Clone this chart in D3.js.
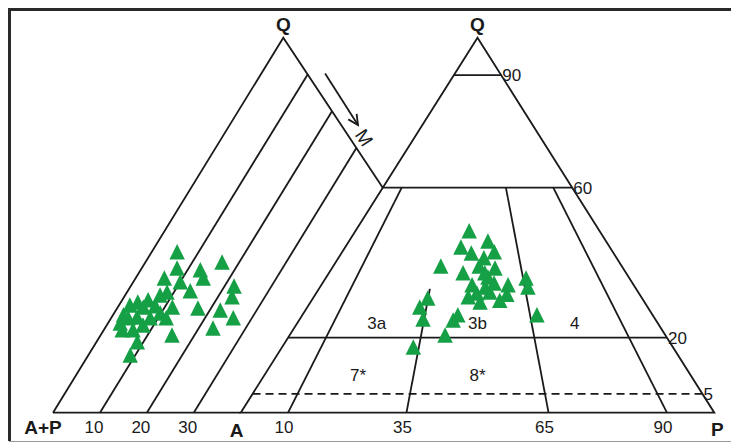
<!DOCTYPE html>
<html>
<head>
<meta charset="utf-8">
<script src="https://cdn.jsdelivr.net/npm/d3@7/dist/d3.min.js"></script>
<style>
  html, body { margin: 0; padding: 0; background: #fff; }
  svg { display: block; }
  text { font-family: "Liberation Sans", Arial, sans-serif; fill: #1a1a1a; }
</style>
</head>
<body>
<svg id="chart" width="731" height="443"></svg>
<script>
// ---- Q-(A+P)-M diagram: samples as Q % and M % ----
const leftQ = [42.9, 40.2, 38.1, 38.6, 35.9, 35.9, 34.9, 33.8, 32.5, 30.9, 31.4, 28.7, 28.2, 27.9, 28.2,
               27.4, 26.6, 26.1, 25.5, 25.3, 25.3, 23.9, 22.6, 22.1, 20.7, 18.9, 15.4, 23.4, 29.5, 32.2,
               25.3, 30.1, 28.5, 22.1, 25.3];
const leftM = [5.4, 16.3, 12.7, 7.5, 6.1, 14.4, 10.0, 22.0, 13.3, 23.0, 7.4, 2.3, 5.4, 17.2, 11.6,
               22.2, 9.8, 2.2, 5.4, 26.0, 8.3, 2.6, 23.0, 6.2, 15.2, 8.7, 8.9, 7.7, 3.6, 8.5,
               3.6, 5.5, 7.8, 3.9, 11.7];
const leftTicks = [10, 20, 30];

// ---- QAP diagram: samples as Q % and P % (A is the remainder) ----
const rightQ = [48.5, 44.2, 45.8, 42.9, 42.6, 39.1, 37.3, 39.1, 36.2, 34.6, 33.5, 34.1, 35.9, 33.5, 30.9,
                29.5, 30.0, 31.6, 31.9, 30.6, 28.2, 25.0, 26.1, 24.7, 26.1, 20.7, 17.5, 37.3,
                41.3, 38.6, 34.1, 32.2];
const rightP = [24.0, 24.4, 29.3, 32.1, 27.4, 22.7, 28.3, 30.8, 34.1, 36.2, 34.9, 39.4, 42.3, 43.9, 32.6,
                35.8, 39.7, 40.4, 33.9, 24.2, 23.7, 26.0, 32.8, 32.5, 49.5, 32.8, 27.7, 32.9,
                30.7, 34.4, 31.8, 36.5];

// QAP field boundaries
const qLevels = [90, 60, 20];          // solid horizontal Q lines
const qDashed = 5;                     // dashed Q line
const pRatios = [10, 35, 65, 90];      // P/(A+P) radial lines
const pRatioTop = [60, 33, 60, 60];    // Q where each radial line stops
const fieldLabels = [
  { t: "3a", ratio: 22, q: 24 }, { t: "3b", ratio: 50, q: 24 }, { t: "4", ratio: 77, q: 24 },
  { t: "7*", ratio: 22, q: 10 }, { t: "8*", ratio: 50, q: 10 }
];

const svg = d3.select("#chart");
const ink = "#1a1a1a";
const green = "#16a046";

// shared vertical scale: Q percent to pixel height
const yQ = d3.scaleLinear().domain([0, 100]).range([412.7, 37.7]);

// QAP ternary: horizontal position from P + Q/2
const xQAP = d3.scaleLinear().domain([0, 100]).range([240.7, 714.3]);
const qap = (q, p) => [xQAP(p + q / 2), yQ(q)];

// Q-(A+P)-M ternary: base runs A+P (M=0) to A (M=40), skewed toward apex
const xM = d3.scaleLinear().domain([0, 40]).range([53, 240.7]);
const apexX = 283.3;
const lean = (apexX - xM(0)) / (yQ(0) - yQ(100));
const qm = (q, m) => [xM(m) + lean * (yQ(0) - yQ(q)), yQ(q)];

const line = d3.line();
const g = svg.append("g").attr("fill", "none").attr("stroke", ink).attr("stroke-width", 1.8);

// ---- frame ----
svg.append("path").attr("d", "M9.5,441 V9.5 H731").attr("fill", "none")
  .attr("stroke", "#2a2a2a").attr("stroke-width", 3);
svg.append("line").attr("x1", 9).attr("x2", 731).attr("y1", 441.5).attr("y2", 441.5)
  .attr("stroke", "#9a9a9a").attr("stroke-width", 1);

// ---- left diagram ----
const apexL = qm(100, 0);
const join = qap(60, 0); // where the M edge meets the QAP triangle
function intersect(p1, p2, p3, p4) {
  const d = (p1[0] - p2[0]) * (p3[1] - p4[1]) - (p1[1] - p2[1]) * (p3[0] - p4[0]);
  const t = ((p1[0] - p3[0]) * (p3[1] - p4[1]) - (p1[1] - p3[1]) * (p3[0] - p4[0])) / d;
  return [p1[0] + t * (p2[0] - p1[0]), p1[1] + t * (p2[1] - p1[1])];
}
g.append("path").attr("d", line([qm(0, 0), apexL, join]));
g.append("path").attr("d", line([qm(0, 0), qm(0, 40)]));
leftTicks.forEach(m => {
  const end = intersect(qm(0, m), qm(100, m), apexL, join);
  g.append("path").attr("d", line([qm(0, m), end]));
});

// arrow toward M, parallel to the M edge
const ex = join[0] - apexL[0], ey = join[1] - apexL[1];
const len = Math.hypot(ex, ey), ux = ex / len, uy = ey / len, nx = uy, ny = -ux;
const along = (s, o) => [apexL[0] + ux * s + nx * o, apexL[1] + uy * s + ny * o];
const a0 = along(53, 15), a1 = along(114, 14);
g.append("path").attr("d", line([a0, a1]));
const back = 10, wing = 5;
g.append("path").attr("d", line([
  [a1[0] - ux * back + nx * wing, a1[1] - uy * back + ny * wing], a1,
  [a1[0] - ux * back - nx * wing, a1[1] - uy * back - ny * wing]]));
const mPos = along(128, 12);
svg.append("text").attr("transform", `translate(${mPos[0]},${mPos[1]}) rotate(${Math.atan2(ey, ex) * 180 / Math.PI})`)
  .attr("text-anchor", "middle").attr("dy", "0.35em").attr("font-size", 19).text("M");

// ---- QAP triangle ----
g.append("path").attr("d", line([qap(0, 0), qap(100, 0), qap(0, 100)]) + "Z");
qLevels.forEach(q => g.append("path").attr("d", line([qap(q, 0), qap(q, 100 - q)])));
g.append("path").attr("d", line([qap(qDashed, 0), qap(qDashed, 100 - qDashed)]))
  .attr("stroke-dasharray", "8,5");
pRatios.forEach((r, i) => {
  const top = pRatioTop[i];
  g.append("path").attr("d", line([qap(0, r), qap(top, (100 - top) * r / 100)]));
});

// ---- labels ----
const num = 17, big = 19;
function label(txt, x, y, opts = {}) {
  return svg.append("text").attr("x", x).attr("y", y)
    .attr("text-anchor", opts.anchor || "middle")
    .attr("font-size", opts.size || num)
    .attr("font-weight", opts.bold ? "bold" : "normal").text(txt);
}
label("Q", apexL[0], 31, { size: big, bold: true });
label("Q", qap(100, 0)[0], 31, { size: big, bold: true });
label("A+P", xM(0) - 10, 434, { size: big, bold: true });
leftTicks.forEach(m => label(String(m), xM(m) - 6, 433));
label("A", xQAP(0) - 4, 437, { size: big, bold: true });
label("P", xQAP(100) + 3, 436, { size: big, bold: true });
pRatios.forEach(r => label(String(r), xQAP(r) - 4, 433));
qLevels.concat([qDashed]).forEach(q => {
  const p = qap(q, 100 - q);
  label(String(q), p[0] + 1, p[1] + 6, { anchor: "start" });
});
fieldLabels.forEach(f => {
  const p = qap(f.q, (100 - f.q) * f.ratio / 100);
  label(f.t, p[0], p[1] + 6);
});

// ---- samples: upright triangles centred on the point ----
const upTriangle = {
  draw(ctx, size) {
    const h = Math.sqrt(size) / 2;
    ctx.moveTo(0, -h);
    ctx.lineTo(h, h);
    ctx.lineTo(-h, h);
    ctx.closePath();
  }
};
const tri = d3.symbol().type(upTriangle).size(240);
svg.append("g").selectAll("path").data(leftQ.map((q, i) => qm(q, leftM[i])))
  .join("path").attr("d", tri).attr("fill", green)
  .attr("transform", d => `translate(${d[0]},${d[1]})`);
svg.append("g").selectAll("path").data(rightQ.map((q, i) => qap(q, rightP[i])))
  .join("path").attr("d", tri).attr("fill", green)
  .attr("transform", d => `translate(${d[0]},${d[1]})`);
</script>
</body>
</html>
